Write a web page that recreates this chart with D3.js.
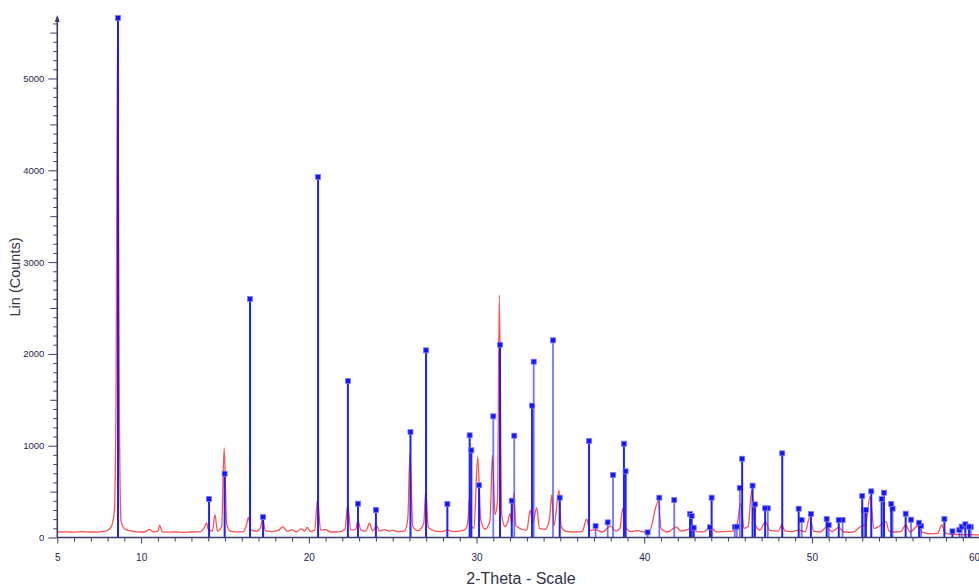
<!DOCTYPE html>
<html>
<head>
<meta charset="utf-8">
<script src="https://cdn.jsdelivr.net/npm/d3@7"></script>
<style>
  html, body { margin: 0; padding: 0; background: #ffffff; }
  svg { display: block; }
  text { font-family: "Liberation Sans", Arial, sans-serif; }
</style>
</head>
<body>
<svg id="chart" width="979" height="588"></svg>
<script>
// Measured scan: 2-theta positions and intensities (Lin counts)
const scanTheta = [
  5.0, 5.5, 6.0, 6.5, 7.0, 7.5, 7.9, 8.2, 8.4, 8.5, 8.6, 8.7, 8.8, 9.0, 9.3, 9.7,
  10.2, 10.5, 10.7, 11.0, 11.1, 11.25, 11.6, 12.0, 12.5, 13.0, 13.5, 13.8, 13.9, 14.0,
  14.25, 14.4, 14.55, 14.8, 14.95, 15.1, 15.3, 15.7, 16.1, 16.3, 16.4, 16.55, 16.9,
  17.1, 17.25, 17.4, 17.8, 18.2, 18.45, 18.7, 19.0, 19.25, 19.55, 19.75, 19.9, 20.1,
  20.35, 20.52, 20.7, 21.0, 21.3, 21.8, 22.15, 22.32, 22.5, 22.8, 22.93, 23.1, 23.4,
  23.62, 23.8, 24.05, 24.2, 24.5, 24.8, 25.0, 25.3, 25.7, 25.9, 26.03, 26.2, 26.5,
  26.85, 26.97, 27.12, 27.5, 27.9, 28.25, 28.6, 29.0, 29.35, 29.5, 29.59, 29.7, 29.85,
  30.07, 30.25, 30.5, 30.8, 30.95, 31.1, 31.25, 31.36, 31.5, 31.7, 31.85, 32.0, 32.1,
  32.22, 32.35, 32.7, 33.0, 33.2, 33.35, 33.59, 33.75, 34.1, 34.35, 34.48, 34.62,
  34.92, 35.05, 35.3, 35.8, 36.3, 36.57, 36.75, 37.1, 37.5, 38.0, 38.3, 38.55, 38.72,
  38.9, 39.2, 39.6, 40.0, 40.3, 40.84, 41.0, 41.4, 41.9, 42.2, 42.8, 43.2, 43.6, 43.92,
  44.3, 44.8, 45.3, 45.55, 45.75, 45.95, 46.2, 46.41, 46.6, 46.9, 47.22, 47.5, 48.0,
  48.2, 48.4, 48.8, 49.2, 49.6, 49.88, 50.1, 50.5, 50.88, 51.2, 51.6, 51.9, 52.4,
  52.95, 53.2, 53.47, 53.7, 54.0, 54.42, 54.6, 55.0, 55.3, 55.6, 55.85, 56.3, 56.6,
  57.0, 57.5, 57.74, 57.95, 58.3, 58.8, 59.3, 60.0
];
const scanCounts = [
  60, 62, 58, 64, 60, 62, 70, 110, 280, 1500, 5650, 1400, 180, 95, 75, 62,
  60, 88, 62, 70, 135, 65, 58, 60, 55, 60, 62, 120, 160, 90,
  70, 250, 70, 120, 975, 150, 70, 62, 65, 150, 220, 80, 70,
  100, 210, 75, 65, 80, 118, 70, 82, 62, 93, 70, 110, 65,
  80, 416, 80, 85, 60, 62, 90, 354, 80, 90, 190, 80, 70,
  155, 70, 130, 70, 85, 70, 80, 65, 70, 200, 917, 120, 75,
  150, 499, 110, 70, 65, 80, 65, 70, 90, 200, 463, 120, 100,
  880, 200, 90, 180, 900, 250, 400, 2641, 250, 118, 160, 263, 140,
  480, 130, 90, 80, 300, 150, 325, 100, 90, 200, 463, 130,
  517, 120, 70, 60, 65, 202, 75, 85, 60, 125, 70, 100, 318,
  110, 65, 75, 60, 65, 398, 100, 60, 115, 70, 95, 62, 65, 118,
  62, 65, 70, 150, 372, 100, 120, 517, 150, 80, 170, 75, 70,
  136, 70, 65, 80, 62, 227, 70, 60, 115, 62, 111, 60, 55,
  125, 140, 452, 100, 120, 172, 70, 60, 65, 136, 60, 125, 55,
  40, 45, 136, 50, 35, 32, 30, 28
];

// Reference pattern 1 (strong lines)
const phaseATheta = [
  8.62, 14.05, 14.98, 16.49, 17.27, 20.55, 22.33, 22.93, 24.0, 26.06, 26.99, 28.26,
  29.59, 29.69, 30.15, 31.40, 32.10, 33.31, 34.96, 36.71, 38.79, 38.89, 42.73, 42.83, 42.95,
  43.92, 44.02, 45.84, 46.46, 46.60, 47.21, 48.23, 49.21, 49.94, 50.88, 51.6, 53.0,
  53.22, 53.54, 54.16, 54.30, 54.73, 55.59, 56.39, 57.90, 58.38, 59.15, 59.37
];
const phaseACounts = [
  5659, 419, 695, 2598, 223, 3927, 1705, 368, 300, 1149, 2039, 365,
  1113, 950, 569, 2100, 401, 1436, 434, 1051, 1022, 721, 256, 234, 107,
  111, 434, 858, 565, 361, 318, 917, 314, 256, 202, 191, 452,
  300, 503, 419, 488, 365, 259, 161, 202, 67, 144, 118
];

// Reference pattern 2
const phaseBTheta = [
  31.0, 32.25, 33.41, 34.56, 37.10, 37.82, 38.14, 40.20, 40.90, 41.79, 45.40,
  45.52, 45.70, 47.37, 49.39, 51.0, 51.83, 53.12, 54.81, 55.91, 56.51, 58.79, 58.93, 59.47
];
const phaseBCounts = [
  1320, 1109, 1915, 2148, 125, 165, 681, 56, 434, 408, 115,
  118, 539, 318, 191, 136, 191, 300, 314, 194, 125, 82, 118, 115
];

// Axis ticks
const xMajorTicks = [5, 10, 20, 30, 40, 50, 60];
const yMajorTicks = [0, 1000, 2000, 3000, 4000, 5000];

const svg = d3.select("#chart");
const x = d3.scaleLinear().domain([5, 60]).range([57.3, 979.6]);
const y = d3.scaleLinear().domain([0, 5000]).range([537.5, 78.5]);
const axisColor = "#3d3d6b";
const labelColor = "#262650";

// Scan trace
const scan = scanTheta.map((t, i) => ({ t, c: scanCounts[i] }));
svg.append("path")
  .datum(scan)
  .attr("fill", "none")
  .attr("stroke", "#ff3030")
  .attr("stroke-opacity", 0.85)
  .attr("stroke-width", 1.3)
  .attr("d", d3.line().x(d => x(d.t)).y(d => y(d.c)).curve(d3.curveMonotoneX));

// Reference stick patterns
function drawSticks(theta, counts, color, width, opacity) {
  const data = theta.map((t, i) => ({ t, c: counts[i] }));
  const g = svg.append("g");
  g.selectAll("line").data(data).join("line")
    .attr("x1", d => x(d.t)).attr("x2", d => x(d.t))
    .attr("y1", y(0)).attr("y2", d => y(d.c))
    .attr("stroke", color).attr("stroke-width", width).attr("stroke-opacity", opacity);
  g.selectAll("rect").data(data).join("rect")
    .attr("x", d => x(d.t) - 2.5).attr("y", d => y(d.c) - 2.5)
    .attr("width", 5).attr("height", 5)
    .attr("fill", "#1414ff")
    .attr("stroke", "#7a7aff").attr("stroke-width", 0.8);
}
drawSticks(phaseBTheta, phaseBCounts, "#3a3aff", 1.8, 0.7);
drawSticks(phaseATheta, phaseACounts, "#1414ff", 2, 0.95);

// Y axis with major, medium and minor ticks
const gy = svg.append("g").attr("transform", `translate(${x(5)},0)`);
gy.call(d3.axisLeft(y).tickValues(d3.range(0, 5700, 100).filter(v => v % 500 !== 0))
  .tickSize(4).tickFormat(""));
gy.call(g => g.append("g").call(d3.axisLeft(y).tickValues(d3.range(500, 5700, 1000)).tickSize(7).tickFormat("")));
gy.call(g => g.append("g").call(d3.axisLeft(y).tickValues(yMajorTicks).tickSize(9).tickPadding(4)
  .tickFormat(d3.format("d"))));
gy.selectAll("path.domain").remove();
gy.selectAll("line").attr("stroke", axisColor);
gy.selectAll("text").attr("fill", labelColor).attr("font-size", 9.5);
gy.append("line").attr("x1", 0).attr("x2", 0).attr("y1", y(0)).attr("y2", 17)
  .attr("stroke", axisColor).attr("stroke-width", 1.6);
gy.append("path").attr("d", "M-2.5,22 L0,15 L2.5,22 Z").attr("fill", axisColor);

// X axis with major and minor ticks
const gx = svg.append("g").attr("transform", `translate(0,${y(0)})`);
gx.call(d3.axisBottom(x).tickValues(d3.range(6, 61, 1).filter(v => !xMajorTicks.includes(v)))
  .tickSize(4).tickFormat(""));
gx.call(g => g.append("g").call(d3.axisBottom(x).tickValues(xMajorTicks).tickSize(6).tickPadding(10)
  .tickFormat(d3.format("d"))));
gx.selectAll("path.domain").remove();
gx.selectAll("line").attr("stroke", axisColor);
gx.selectAll("text").attr("fill", labelColor).attr("font-size", 10);
// keep the last label inside the frame
gx.selectAll(".tick").filter(d => d === 60).select("text").attr("text-anchor", "end");
gx.append("line").attr("x1", x(5)).attr("x2", 979).attr("y1", 0).attr("y2", 0)
  .attr("stroke", axisColor).attr("stroke-width", 1.6);

// Axis titles
svg.append("text")
  .attr("x", 521).attr("y", 584)
  .attr("text-anchor", "middle")
  .attr("font-size", 16).attr("fill", "#333344")
  .text("2-Theta - Scale");
svg.append("text")
  .attr("transform", "translate(20,277) rotate(-90)")
  .attr("text-anchor", "middle")
  .attr("font-size", 14.5).attr("fill", "#333344")
  .text("Lin (Counts)");
</script>
</body>
</html>
